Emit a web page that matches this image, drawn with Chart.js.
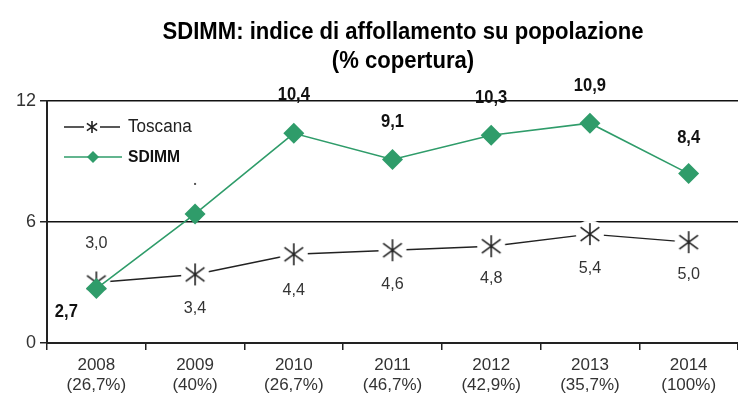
<!DOCTYPE html>
<html><head><meta charset="utf-8">
<script src="https://cdn.jsdelivr.net/npm/chart.js@4"></script>
<style>html,body{margin:0;padding:0;background:#fff}#wrap{width:738px;height:412px}</style>
</head><body><div id="wrap"><canvas id="c" width="738" height="412"></canvas></div>
<script>
const years = ['2008','2009','2010','2011','2012','2013','2014'];
const coverage = ['(26,7%)','(40%)','(26,7%)','(46,7%)','(42,9%)','(35,7%)','(100%)'];
const toscana = [3.0, 3.4, 4.4, 4.6, 4.8, 5.4, 5.0];
const sdimm = [2.7, 6.4, 10.4, 9.1, 10.3, 10.9, 8.4];
const sdimmShowLabel = [true, false, true, true, true, true, true];
const yTicks = [0, 6, 12];
const titleLines = ['SDIMM: indice di affollamento su popolazione', '(% copertura)'];

const GREEN = '#2f9c6a';
const SANS = '"Liberation Sans", Arial, sans-serif';

function starCanvas(r, bg) {
  const s = Math.ceil(r * 2 + 8);
  const cv = document.createElement('canvas');
  cv.width = s; cv.height = s;
  const c = cv.getContext('2d');
  const cx = s / 2, cy = s / 2;
  if (bg) { c.fillStyle = '#fff'; c.beginPath(); c.arc(cx, cy, r + 3, 0, Math.PI * 2); c.fill(); }
  c.strokeStyle = '#222'; c.lineWidth = 1.6;
  c.beginPath();
  c.moveTo(cx, cy - r); c.lineTo(cx, cy + r);
  const dx = r * 0.85, dy = r * 0.62;
  c.moveTo(cx - dx, cy - dy); c.lineTo(cx + dx, cy + dy);
  c.moveTo(cx - dx, cy + dy); c.lineTo(cx + dx, cy - dy);
  c.stroke();
  return cv;
}
const bigStar = starCanvas(11, true);
const smallStar = starCanvas(6, false);

const fmt = v => v.toFixed(1).replace('.', ',');

// label offsets (pixel) relative to point
const toscanaOff = [[0,-39],[0,34],[0,36],[0,34],[0,32],[0,34],[0,32]];
const sdimmOff = [[-30,23],[0,0],[0,-38],[0,-37],[0,-37],[0,-37],[0,-36]];

function narrowText(ctx, txt, x, y, sx) {
  ctx.save(); ctx.translate(x, y); ctx.scale(sx, 1); ctx.fillText(txt, 0, 0); ctx.restore();
}

const labelsPlugin = {
  id: 'labelsPlugin',
  afterDatasetsDraw(chart) {
    const ctx = chart.ctx;
    ctx.save();
    ctx.textAlign = 'center'; ctx.textBaseline = 'middle';
    const m0 = chart.getDatasetMeta(0); // toscana
    ctx.font = '17px ' + SANS; ctx.fillStyle = '#333';
    m0.data.forEach((p, i) => {
      narrowText(ctx, fmt(toscana[i]), p.x + toscanaOff[i][0], p.y + toscanaOff[i][1], 0.95);
    });
    const m1 = chart.getDatasetMeta(1);
    ctx.font = 'bold 18px ' + SANS; ctx.fillStyle = '#111';
    m1.data.forEach((p, i) => {
      if (!sdimmShowLabel[i]) { ctx.fillStyle = '#555'; ctx.fillRect(p.x - 1, p.y - 31, 2, 2); ctx.fillStyle = '#111'; return; }
      narrowText(ctx, fmt(sdimm[i]), p.x + sdimmOff[i][0], p.y + sdimmOff[i][1], 0.92);
    });
    // title
    ctx.font = 'bold 23px ' + SANS; ctx.fillStyle = '#000';
    narrowText(ctx, titleLines[0], 403, 33, 0.96);
    narrowText(ctx, titleLines[1], 403, 62, 0.96);
    // legend
    const ds = chart.data.datasets;
    ctx.textAlign = 'left';
    ctx.strokeStyle = '#222'; ctx.lineWidth = 1.5;
    ctx.beginPath(); ctx.moveTo(64, 127); ctx.lineTo(84, 127); ctx.moveTo(100, 127); ctx.lineTo(120, 127); ctx.stroke();
    ctx.drawImage(smallStar, 92 - smallStar.width / 2, 127 - smallStar.height / 2);
    ctx.font = '18px ' + SANS; ctx.fillStyle = '#222';
    narrowText(ctx, ds[0].label, 128, 127, 0.95);
    ctx.strokeStyle = GREEN; ctx.lineWidth = 1.5;
    ctx.beginPath(); ctx.moveTo(64, 157); ctx.lineTo(122, 157); ctx.stroke();
    ctx.fillStyle = GREEN;
    ctx.beginPath(); ctx.moveTo(93, 151); ctx.lineTo(99, 157); ctx.lineTo(93, 163); ctx.lineTo(87, 157); ctx.closePath(); ctx.fill();
    ctx.font = 'bold 17px ' + SANS; ctx.fillStyle = '#111';
    narrowText(ctx, ds[1].label, 128, 157, 0.92);
    ctx.restore();
  }
};

new Chart(document.getElementById('c'), {
  type: 'line',
  data: {
    labels: years.map((y, i) => [y, coverage[i]]),
    datasets: [
      { label: 'Toscana', data: toscana, borderColor: '#222', borderWidth: 1.4,
        pointStyle: bigStar, pointRadius: 11, pointHoverRadius: 11, order: 1, fill: false, tension: 0 },
      { label: 'SDIMM', data: sdimm, borderColor: GREEN, borderWidth: 1.6, backgroundColor: GREEN,
        pointStyle: 'rectRot', pointRadius: 10.5, pointHoverRadius: 10.5, pointBorderWidth: 0,
        pointBackgroundColor: GREEN, order: 0, fill: false, tension: 0 }
    ]
  },
  options: {
    responsive: false, animation: false,
    layout: { autoPadding: false, padding: { top: 101, right: -4, left: 0, bottom: 0 } },
    plugins: { legend: { display: false }, tooltip: { enabled: false }, title: { display: false } },
    scales: {
      x: {
        offset: true,
        grid: { offset: true, drawOnChartArea: false, drawTicks: true, tickLength: 7, color: '#222', lineWidth: 1.5 },
        border: { display: true, color: '#222', width: 2 },
        ticks: { color: '#333', font: { family: SANS, size: 17 }, padding: 5, maxRotation: 0, autoSkip: false },
        afterFit(s) { s.height = 69; }
      },
      y: {
        min: 0, max: 12,
        afterBuildTicks(s) { s.ticks = yTicks.map(v => ({ value: v })); },
        grid: { color: c => c.tick && c.tick.value === 0 ? 'rgba(0,0,0,0)' : '#111', lineWidth: 1.5, drawTicks: true, tickLength: 7, tickColor: '#222' },
        border: { display: true, color: '#222', width: 2 },
        ticks: { color: '#333', font: { family: SANS, size: 18 }, padding: 4 },
        afterFit(s) { s.width = 47; }
      }
    }
  },
  plugins: [labelsPlugin]
});
</script></body></html>
